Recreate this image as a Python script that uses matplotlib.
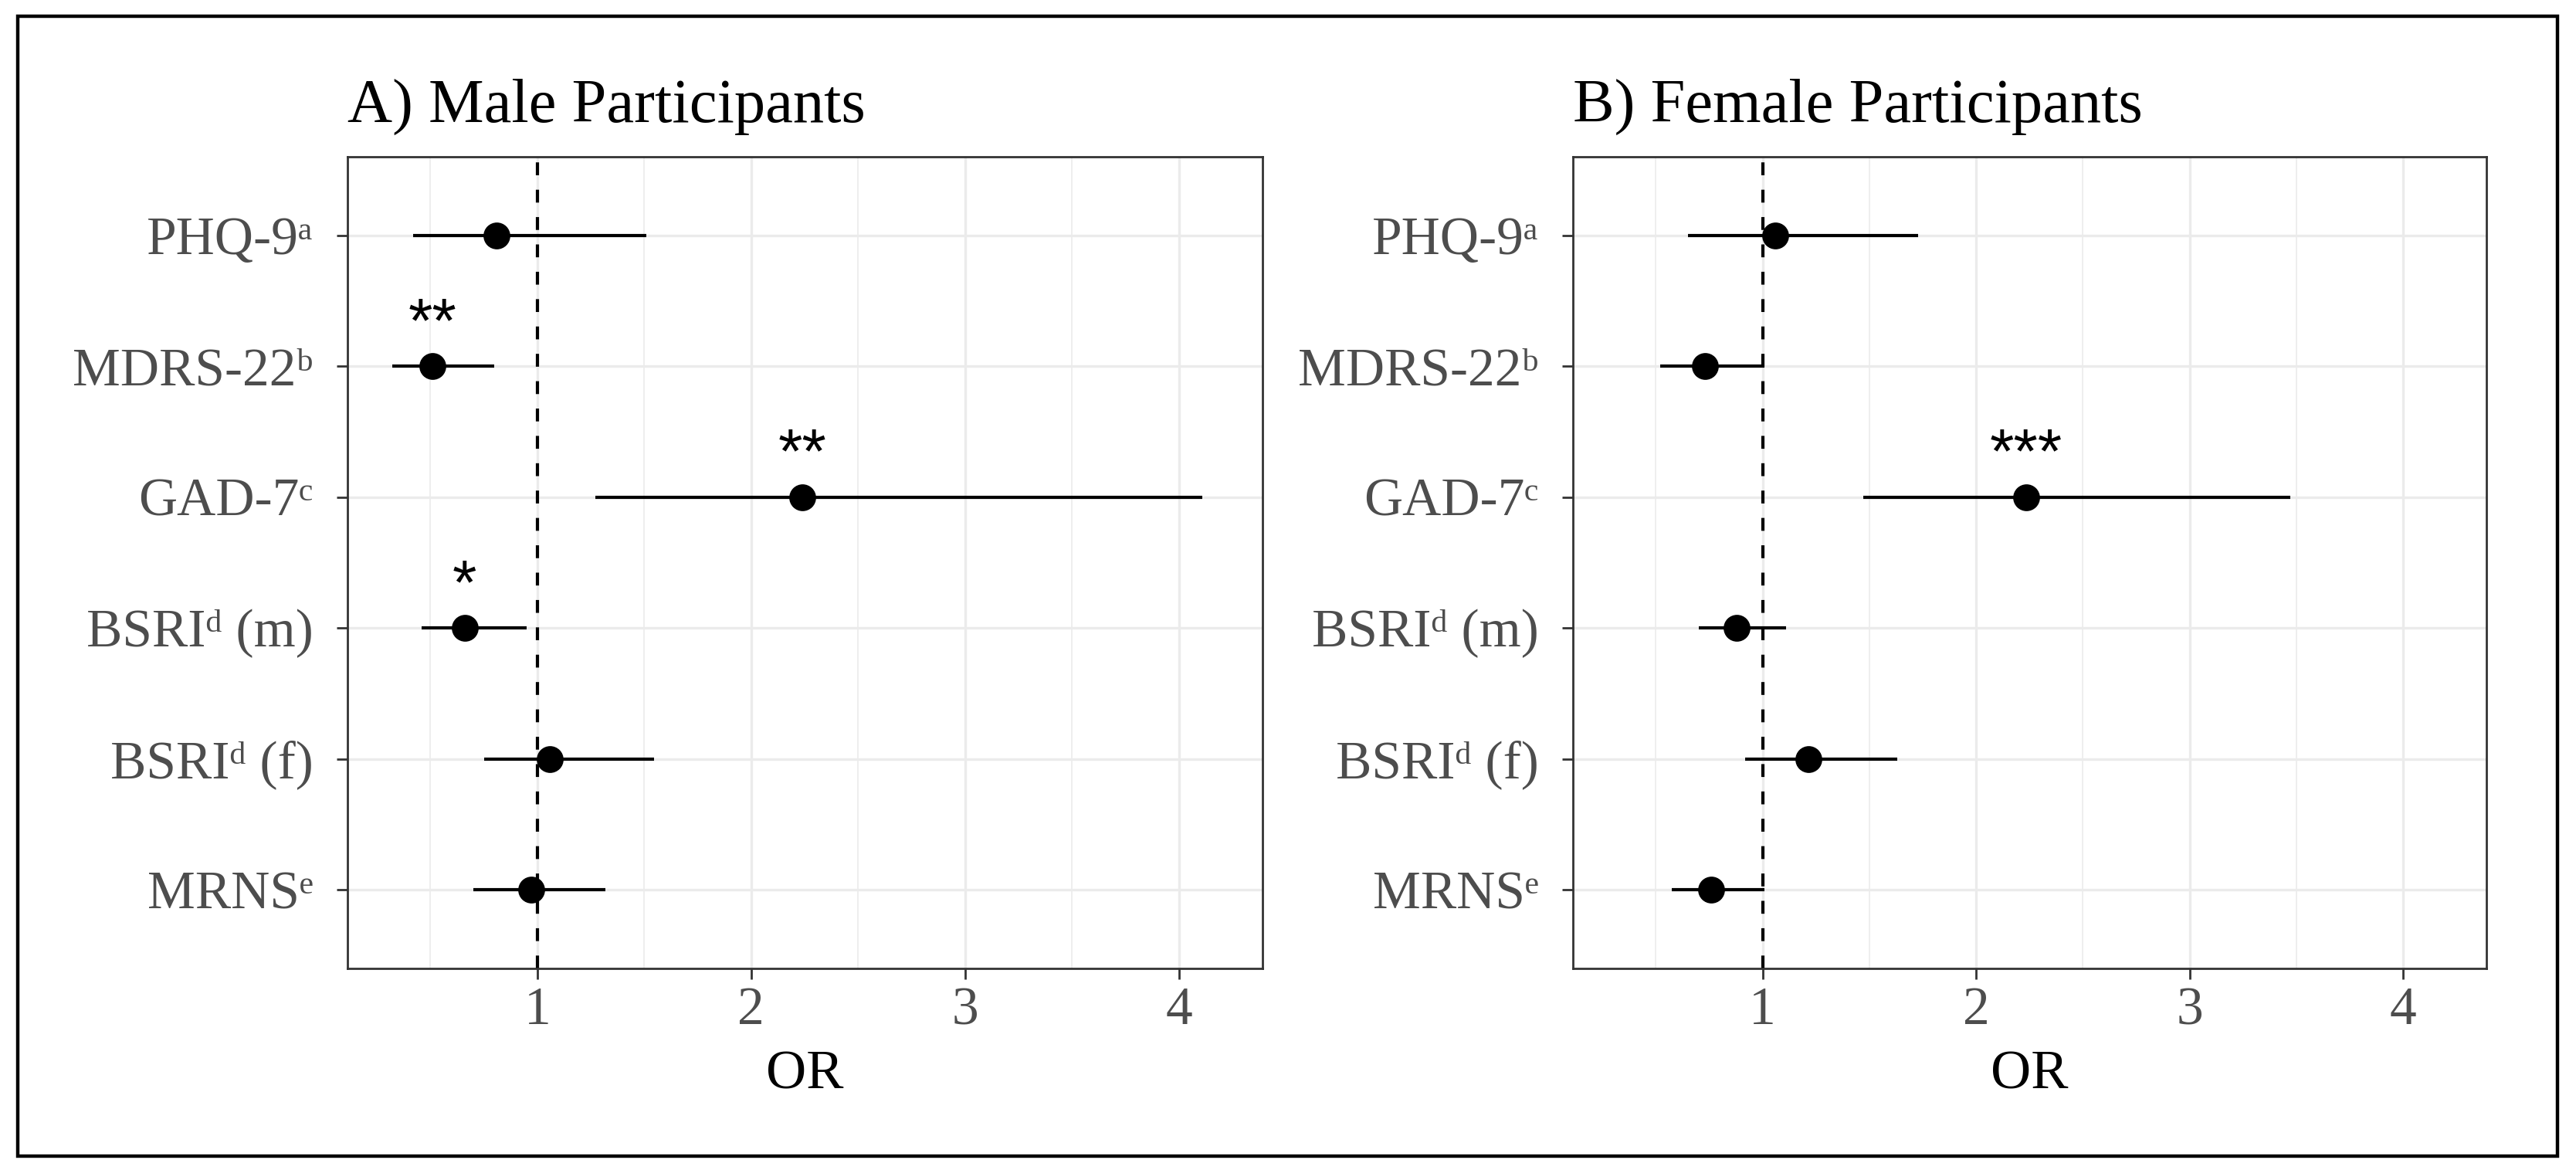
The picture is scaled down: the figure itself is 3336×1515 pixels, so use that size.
import matplotlib
matplotlib.use("Agg")
import matplotlib.pyplot as plt
from matplotlib.patches import Rectangle

plt.rcParams['font.family'] = ['Liberation Serif', 'DejaVu Serif']

# ---- data ----
measures = ["PHQ-9ᵃ", "MDRS-22ᵇ", "GAD-7ᶜ", "BSRIᵈ (m)", "BSRIᵈ (f)", "MRNSᵉ"]

male_or = [0.81, 0.51, 2.24, 0.66, 1.06, 0.97]
male_lo = [0.42, 0.32, 1.27, 0.46, 0.75, 0.70]
male_hi = [1.51, 0.80, 4.11, 0.95, 1.545, 1.32]
male_sig = ["", "**", "**", "*", "", ""]

female_or = [1.06, 0.73, 2.235, 0.88, 1.215, 0.76]
female_lo = [0.65, 0.52, 1.47, 0.70, 0.92, 0.575]
female_hi = [1.73, 1.01, 3.47, 1.11, 1.63, 1.01]
female_sig = ["", "", "***", "", "", ""]

titles = ["A) Male Participants", "B) Female Participants"]
x_ticks = [1, 2, 3, 4]
x_minor = [0.5, 1.5, 2.5, 3.5]
x_label = "OR"

# ---- figure ----
W, H = 3336, 1515
DPI = 200
fig = plt.figure(figsize=(W / DPI, H / DPI), dpi=DPI)

panels = [
    (450, 1634.5, male_or, male_lo, male_hi, male_sig, titles[0]),
    (2037, 3220, female_or, female_lo, female_hi, female_sig, titles[1]),
]
top_px, bot_px = 203, 1254

n = len(measures)
ypos = list(range(n, 0, -1))

for (x0, x1, orv, lo, hi, sig, title) in panels:
    ax = fig.add_axes([x0 / W, 1 - bot_px / H, (x1 - x0) / W, (bot_px - top_px) / H])
    ax.set_xlim(0.112, 4.39)
    ax.set_ylim(0.4, n + 0.6)
    ax.set_xticks(x_ticks)
    ax.set_xticks(x_minor, minor=True)
    ax.set_yticks(ypos)
    ax.set_yticklabels(measures)
    ax.grid(True, which='major', color='#EBEBEB', lw=1.2, zorder=0)
    ax.grid(True, which='minor', axis='x', color='#EBEBEB', lw=0.6, zorder=0)
    ax.set_axisbelow(True)
    for s in ax.spines.values():
        s.set_color('#333333')
        s.set_linewidth(1.0)
    ax.tick_params(axis='both', which='major', color='#333333', width=1.0, length=5,
                   labelcolor='#4D4D4D', labelsize=25)
    ax.tick_params(axis='y', pad=11)
    ax.tick_params(axis='x', pad=3.5)
    ax.tick_params(which='minor', length=0)

    ax.axvline(1, color='black', lw=1.5, ls=(0, (4, 4.5)), zorder=2)

    xerr = [[o - l for o, l in zip(orv, lo)], [h - o for o, h in zip(orv, hi)]]
    ax.errorbar(orv, ypos, xerr=xerr, fmt='o', color='black', ms=11.5,
                elinewidth=1.5, capsize=0, zorder=3)
    for o, y, s in zip(orv, ypos, sig):
        if s:
            ax.text(o, y + 0.19, s, ha='center', va='baseline', fontsize=29,
                    family=['Liberation Sans', 'DejaVu Sans'], color='black', zorder=4)

    fig.text(x0 / W, 1 - 158 / H, title, ha='left', va='baseline', fontsize=29, color='black')
    fig.text((x0 + x1) / 2 / W, 1 - 1409.5 / H, x_label, ha='center', va='baseline',
             fontsize=26, color='black')

# outer border
fig.patches.append(Rectangle((23 / W, 1 - 1497 / H), (3312 - 23) / W, (1497 - 21) / H,
                             transform=fig.transFigure, fill=False, edgecolor='black',
                             lw=1.6, zorder=10))

fig.savefig("out.png", dpi=DPI, facecolor='white')
